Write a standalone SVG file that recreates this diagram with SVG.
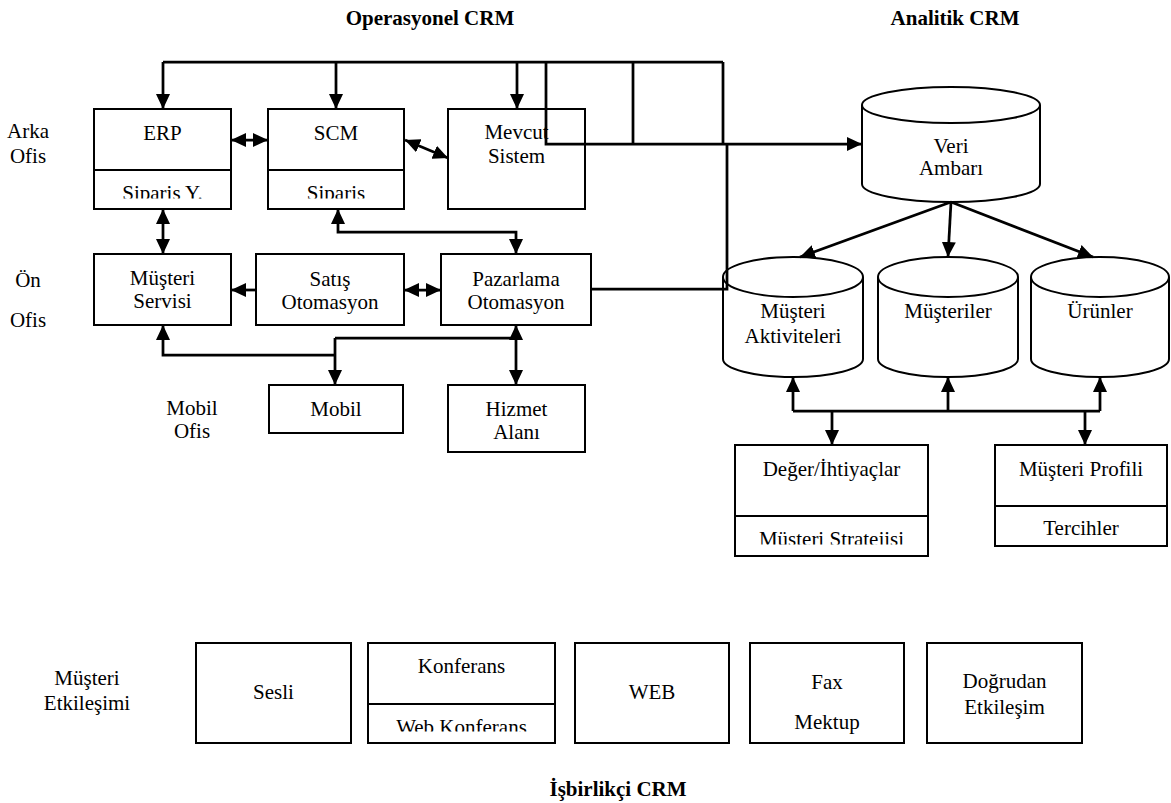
<svg xmlns="http://www.w3.org/2000/svg" width="1171" height="803" viewBox="0 0 1171 803">
  <style>
    .box { fill: #fff; stroke: #000; stroke-width: 2; }
    .cyl { fill: #fff; stroke: #000; stroke-width: 2; }
    .t { font-family: "Liberation Serif", "Times New Roman", serif; font-size: 21px; fill: #000; text-anchor: middle; }
    .h { font-weight: bold; }
    .wire { fill: none; stroke: #000; stroke-width: 2.75; }
    .wire path { fill: none; }
    .a1 { marker-end: url(#ah); }
    .a2 { marker-start: url(#ah); marker-end: url(#ah); }
    .a0 { marker-start: url(#ah); }
  </style>
  <defs>
    <marker id="ah" viewBox="0 0 15 14" refX="15" refY="7" markerWidth="15" markerHeight="14" markerUnits="userSpaceOnUse" orient="auto-start-reverse">
      <path d="M0,0 L15,7 L0,14 z" fill="#000"/>
    </marker>
    <!-- text areas of split boxes cut off the lower edge of their second line -->
    <clipPath id="clipErp"><rect x="94" y="170" width="137" height="28.5"/></clipPath>
    <clipPath id="clipScm"><rect x="268" y="170" width="136" height="28.5"/></clipPath>
    <clipPath id="clipStr"><rect x="735" y="516" width="193" height="28.5"/></clipPath>
    <clipPath id="clipKonf"><rect x="368" y="704" width="187" height="27.5"/></clipPath>
  </defs>

  <!-- section headings -->
  <g id="headings">
    <text class="t h" x="430" y="25">Operasyonel CRM</text>
    <text class="t h" x="955" y="25">Analitik CRM</text>
    <text class="t h" x="618" y="796">İşbirlikçi CRM</text>
  </g>

  <!-- row labels -->
  <g id="row-labels">
    <text class="t" x="28" y="138">Arka</text>
    <text class="t" x="28" y="163">Ofis</text>
    <text class="t" x="28" y="287">Ön</text>
    <text class="t" x="28" y="327">Ofis</text>
    <text class="t" x="192" y="415">Mobil</text>
    <text class="t" x="192" y="438">Ofis</text>
    <text class="t" x="87" y="685">Müşteri</text>
    <text class="t" x="87" y="710">Etkileşimi</text>
  </g>

  <!-- back office -->
  <g id="erp">
    <rect class="box" x="94" y="109" width="137" height="100"/>
    <line class="box" x1="94" y1="170" x2="231" y2="170"/>
    <text class="t" x="162.5" y="140">ERP</text>
    <text class="t" x="162.5" y="199.5" clip-path="url(#clipErp)">Sipariş Y.</text>
  </g>
  <g id="scm">
    <rect class="box" x="268" y="109" width="136" height="100"/>
    <line class="box" x1="268" y1="170" x2="404" y2="170"/>
    <text class="t" x="336" y="140">SCM</text>
    <text class="t" x="336" y="199.5" clip-path="url(#clipScm)">Sipariş</text>
  </g>
  <g id="mevcut">
    <rect class="box" x="448" y="109" width="137" height="100"/>
    <text class="t" x="516.5" y="139">Mevcut</text>
    <text class="t" x="516.5" y="163">Sistem</text>
  </g>

  <!-- front office -->
  <g id="musteri-servisi">
    <rect class="box" x="94" y="254" width="137" height="71"/>
    <text class="t" x="162.5" y="285">Müşteri</text>
    <text class="t" x="162.5" y="308">Servisi</text>
  </g>
  <g id="satis">
    <rect class="box" x="256" y="254" width="148" height="71"/>
    <text class="t" x="330" y="286">Satış</text>
    <text class="t" x="330" y="309">Otomasyon</text>
  </g>
  <g id="pazarlama">
    <rect class="box" x="441" y="254" width="150" height="71"/>
    <text class="t" x="516" y="286">Pazarlama</text>
    <text class="t" x="516" y="309">Otomasyon</text>
  </g>

  <!-- mobile office -->
  <g id="mobil">
    <rect class="box" x="269" y="385" width="134" height="48"/>
    <text class="t" x="336" y="416">Mobil</text>
  </g>
  <g id="hizmet">
    <rect class="box" x="448" y="385" width="137" height="67"/>
    <text class="t" x="516.5" y="416">Hizmet</text>
    <text class="t" x="516.5" y="439">Alanı</text>
  </g>

  <!-- analytical stores -->
  <g id="veri-ambari">
    <path class="cyl" d="M862,105 V184 A89,18 0 0 0 1040,184 V105"/>
    <ellipse class="cyl" cx="951" cy="105" rx="89" ry="18"/>
    <text class="t" x="951" y="153">Veri</text>
    <text class="t" x="951" y="175">Ambarı</text>
  </g>
  <g id="musteri-aktiviteleri">
    <path class="cyl" d="M723,277 V359 A70,18 0 0 0 863,359 V277"/>
    <ellipse class="cyl" cx="793" cy="277" rx="70" ry="20"/>
    <text class="t" x="793" y="318">Müşteri</text>
    <text class="t" x="793" y="343">Aktiviteleri</text>
  </g>
  <g id="musteriler">
    <path class="cyl" d="M878,277 V359 A70,18 0 0 0 1018,359 V277"/>
    <ellipse class="cyl" cx="948" cy="277" rx="70" ry="20"/>
    <text class="t" x="948" y="318">Müşteriler</text>
  </g>
  <g id="urunler">
    <path class="cyl" d="M1031,277 V359 A69,18 0 0 0 1169,359 V277"/>
    <ellipse class="cyl" cx="1100" cy="277" rx="69" ry="20"/>
    <text class="t" x="1100" y="318">Ürünler</text>
  </g>

  <!-- analysis outputs -->
  <g id="deger">
    <rect class="box" x="735" y="445" width="193" height="111"/>
    <line class="box" x1="735" y1="516" x2="928" y2="516"/>
    <text class="t" x="831.5" y="476">Değer/İhtiyaçlar</text>
    <text class="t" x="831.5" y="545.5" clip-path="url(#clipStr)">Müşteri Stratejisi</text>
  </g>
  <g id="profil">
    <rect class="box" x="995" y="445" width="172" height="101"/>
    <line class="box" x1="995" y1="506" x2="1167" y2="506"/>
    <text class="t" x="1081" y="476">Müşteri Profili</text>
    <text class="t" x="1081" y="535">Tercihler</text>
  </g>

  <!-- collaborative channels -->
  <g id="sesli">
    <rect class="box" x="196" y="643" width="155" height="100"/>
    <text class="t" x="273.5" y="699">Sesli</text>
  </g>
  <g id="konferans">
    <rect class="box" x="368" y="643" width="187" height="100"/>
    <line class="box" x1="368" y1="704" x2="555" y2="704"/>
    <text class="t" x="461.5" y="673">Konferans</text>
    <text class="t" x="461.5" y="734" clip-path="url(#clipKonf)">Web Konferans</text>
  </g>
  <g id="web">
    <rect class="box" x="575" y="643" width="154" height="100"/>
    <text class="t" x="652" y="699">WEB</text>
  </g>
  <g id="fax">
    <rect class="box" x="750" y="643" width="154" height="100"/>
    <text class="t" x="827" y="689">Fax</text>
    <text class="t" x="827" y="729">Mektup</text>
  </g>
  <g id="dogrudan">
    <rect class="box" x="927" y="643" width="155" height="100"/>
    <text class="t" x="1004.5" y="688">Doğrudan</text>
    <text class="t" x="1004.5" y="714">Etkileşim</text>
  </g>

  <!-- connectors -->
  <g id="connectors" class="wire">
    <!-- top bus feeding the back office and the warehouse -->
    <path d="M163,62 H723"/>
    <path class="a1" d="M163,62 V109"/>
    <path class="a1" d="M336,62 V109"/>
    <path class="a1" d="M517,62 V109"/>
    <path class="a1" d="M546,62 V144 H862"/>
    <path d="M633,62 V144"/>
    <path d="M723,62 V144"/>
    <path d="M591,289 H727 V144"/>
    <!-- back office links -->
    <path class="a2" d="M231,140 H268"/>
    <path class="a2" d="M405,140 L448,158"/>
    <path class="a2" d="M163,209 V254"/>
    <path class="a2" d="M338,209 V232 H516 V254"/>
    <!-- front office links -->
    <path class="a1" d="M256,290 H231"/>
    <path class="a2" d="M404,290 H441"/>
    <!-- mobile office links -->
    <path class="a0" d="M163,325 V355 H335"/>
    <path d="M335,338 H516"/>
    <path class="a1" d="M335,338 V385"/>
    <path class="a2" d="M516,325 V385"/>
    <!-- warehouse to data marts -->
    <path class="a1" d="M951,202 L800,257"/>
    <path class="a1" d="M951,202 L948,257"/>
    <path class="a1" d="M951,202 L1093,257"/>
    <!-- data marts to analysis outputs -->
    <path d="M793,411 H1100"/>
    <path class="a1" d="M793,411 V377"/>
    <path class="a1" d="M948,411 V377"/>
    <path class="a1" d="M1100,411 V377"/>
    <path class="a1" d="M832,411 V445"/>
    <path class="a1" d="M1085,411 V445"/>
  </g>
</svg>
